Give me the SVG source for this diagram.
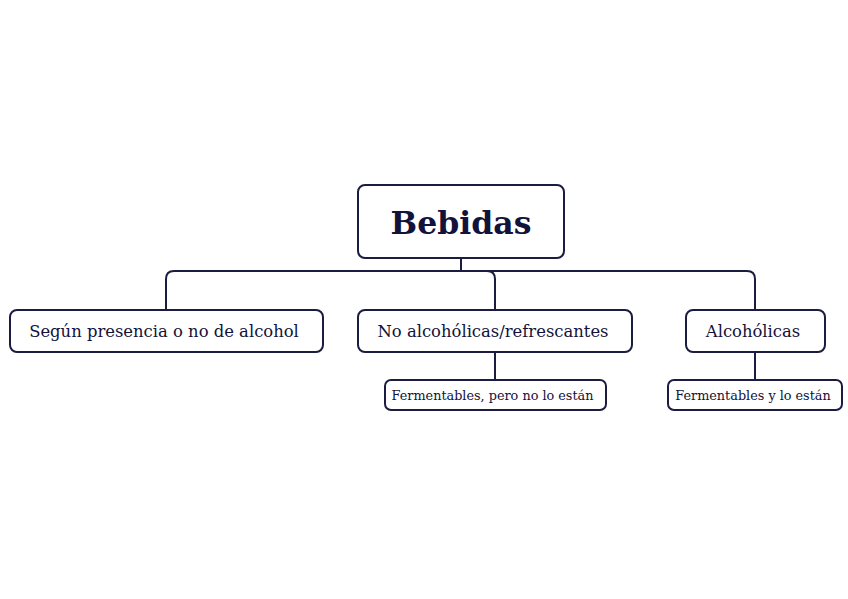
<svg xmlns="http://www.w3.org/2000/svg" width="848" height="599" viewBox="0 0 848 599">
<style>
.box{fill:#fff;stroke:#1c1c40;stroke-width:2}
.t{font-family:"DejaVu Serif","Liberation Serif",serif;fill:#12123a;text-anchor:middle}
.m{font-size:16.4px}
.s{font-size:12.8px}
.conn{fill:none;stroke:#1c1c40;stroke-width:2}
</style>
<rect width="848" height="599" fill="#fff"/>
<g id="connectors">
<path class="conn" d="M461 258V271"/>
<path class="conn" d="M166 310V279Q166 271 174 271H747Q755 271 755 279V310"/>
<path class="conn" d="M487 271Q495 271 495 279V310"/>
<path class="conn" d="M495 352V380"/>
<path class="conn" d="M755 352V380"/>
</g>
<g id="root">
<rect class="box" x="358" y="185" width="206" height="73" rx="7"/>
<text class="t" x="461" y="234" font-size="31.5" font-weight="bold">Bebidas</text>
</g>
<g id="n1">
<rect class="box" x="10" y="310" width="313" height="42" rx="7"/>
<text class="t m" x="164" y="337">Según presencia o no de alcohol</text>
</g>
<g id="n2">
<rect class="box" x="358" y="310" width="274" height="42" rx="7"/>
<text class="t m" x="493" y="337">No alcohólicas/refrescantes</text>
</g>
<g id="n3">
<rect class="box" x="686" y="310" width="139" height="42" rx="7"/>
<text class="t m" x="753" y="337">Alcohólicas</text>
</g>
<g id="n4">
<rect class="box" x="385" y="380" width="221" height="30" rx="6"/>
<text class="t s" x="492.5" y="400">Fermentables, pero no lo están</text>
</g>
<g id="n5">
<rect class="box" x="668" y="380" width="174" height="30" rx="6"/>
<text class="t s" x="753" y="400">Fermentables y lo están</text>
</g>
</svg>
